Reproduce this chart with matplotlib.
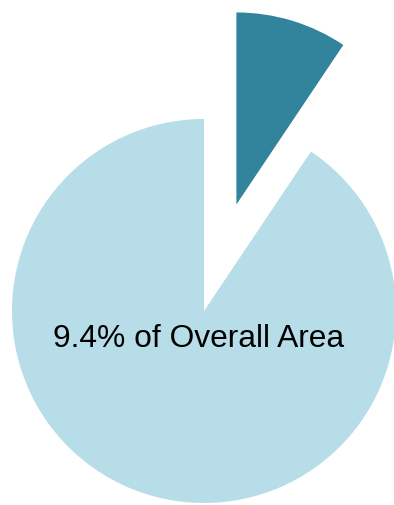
import matplotlib
matplotlib.use("Agg")
from matplotlib import pyplot as plt

labels = ["Selected Area", "Remaining Area"]
shares = [9.4, 90.6]
colors = ["#31849B", "#B7DDE8"]
explode = [0.58, 0]
caption = "9.4% of Overall Area"

fig = plt.figure(figsize=(3.94, 5.06), dpi=100)
ax = fig.add_axes([0, 0, 1, 1])

ax.pie(shares, colors=colors, explode=explode, startangle=90,
       counterclock=False, radius=1.0,
       wedgeprops=dict(linewidth=0))

ax.text(-0.03, -0.181, caption, ha="center", va="baseline",
        fontsize=22.9, family=["Liberation Sans", "DejaVu Sans"], color="black")

# 192 px per unit, pie centre at (204, 312) px from top-left
ax.set_aspect("auto")
ax.set_xlim(-204 / 192, (394 - 204) / 192)
ax.set_ylim(-(506 - 312) / 192, 312 / 192)
ax.axis("off")

plt.savefig("out.png", dpi=100, facecolor="white")
